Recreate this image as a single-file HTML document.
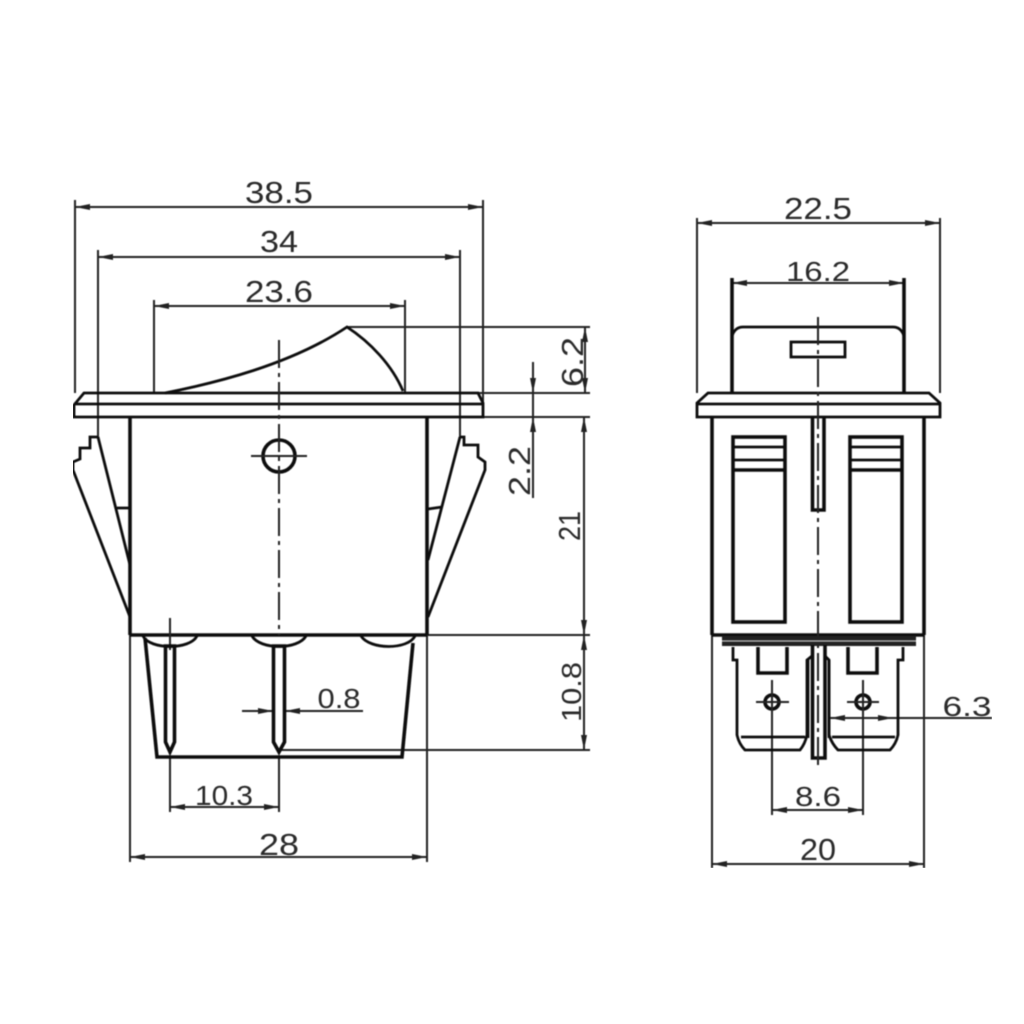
<!DOCTYPE html>
<html><head><meta charset="utf-8"><style>
html,body{margin:0;padding:0;background:#fff;width:1024px;height:1024px;overflow:hidden}
svg{display:block}
text{font-family:"Liberation Sans",sans-serif;font-size:31px;fill:#2a2a2a;text-anchor:middle}
.o{fill:none;stroke:#111;stroke-width:2.8}
.h{fill:none;stroke:#111;stroke-width:3.6}
.d{fill:none;stroke:#222;stroke-width:2}
.c{fill:none;stroke:#222;stroke-width:2;stroke-dasharray:28 5 4 5}
.a{fill:#222;stroke:none}
</style></head><body>
<svg width="1024" height="1024" viewBox="0 0 1024 1024" xmlns="http://www.w3.org/2000/svg">
<defs><filter id="b" x="0" y="0" width="100%" height="100%"><feGaussianBlur stdDeviation="0.45"/></filter></defs>
<rect width="1024" height="1024" fill="#fff"/>
<g filter="url(#b)">

<!-- LEFT: dimension lines -->
<g class="d">
<path d="M75 200V393M483 200V417M98 250V437M460 250V437M154 300V393M405 300V393"/>
<path d="M75 207H483M98 257H460M154 306H405"/>
<path d="M347 327H590M478 393H590M428 417H590M427 635H590M402 750H590M279 750H402"/>
<path d="M585 327V393M533 362V498M584 417V750"/>
<path d="M130 635V862M427 635V862M170 757V812M279 757V812M130 857H427M170 807H279"/>
<path d="M242 711H273M285 711H363"/>
</g>
<g class="a">
<path d="M75 207l15-3v6zM483 207l-15-3v6zM98 257l15-3v6zM460 257l-15-3v6zM154 306l15-3v6zM405 306l-15-3v6z"/>
<path d="M585 327l-3 15h6zM585 393l-3-15h6zM533 393l-3-15h6zM533 417l-3 15h6zM584 417l-3 15h6zM584 635l-3-15h6zM584 635l-3 15h6zM584 750l-3-15h6z"/>
<path d="M130 857l15-3v6zM427 857l-15-3v6zM170 807l15-3v6zM279 807l-15-3v6zM273 711l-15-3v6zM285 711l15-3v6z"/>
</g>

<!-- LEFT: body -->
<path class="o" d="M74 417V405L84 393H478L483 403V417ZM74 404H483"/>
<path class="o" d="M165 393C215 383 290 365 347 327C370 342 392 365 403 391"/>
<path class="h" d="M130 417V635M427 417V635M130 635H427"/>
<path class="o" d="M98 437H90V448H80V459L73 462V470L130 617M98 437L130 565M117 508H130"/>
<path class="o" d="M460 437H464V445H478V457L485 462V470L428 617M460 437L428 560M428 509L442 507"/>
<circle class="h" cx="279" cy="456" r="16"/>
<path class="d" d="M251 456H307"/>
<path class="c" d="M279 340V635"/>
<path class="d" d="M170 618V650"/>

<!-- LEFT: terminals -->
<path class="h" d="M145 638L157 757H402L413 643"/>
<path class="o" d="M143 636C150 650 190 650 197 636M252 636C260 650 298 650 306 636M361 636C370 650 408 650 415 636"/>
<path class="h" d="M165.500 646V742L170 752L174.500 742V646Z" fill="#888"/>
<path class="h" d="M273.500 646V742L279 752L284.500 742V646Z" fill="#888"/>

<!-- LEFT: labels -->
<text x="279" y="203" textLength="68" lengthAdjust="spacingAndGlyphs">38.5</text>
<text x="279" y="252" textLength="38" lengthAdjust="spacingAndGlyphs">34</text>
<text x="279" y="302" textLength="68" lengthAdjust="spacingAndGlyphs">23.6</text>
<text x="339" y="708" textLength="43" lengthAdjust="spacingAndGlyphs" style="font-size:28px">0.8</text>
<text x="224" y="805" textLength="58" lengthAdjust="spacingAndGlyphs" style="font-size:28px">10.3</text>
<text x="279" y="855" textLength="40" lengthAdjust="spacingAndGlyphs">28</text>
<text transform="translate(583 362) rotate(-90)" textLength="50" lengthAdjust="spacingAndGlyphs">6.2</text>
<text transform="translate(530 471) rotate(-90)" textLength="50" lengthAdjust="spacingAndGlyphs">2.2</text>
<text transform="translate(580 526) rotate(-90)" textLength="30" lengthAdjust="spacingAndGlyphs">21</text>
<text transform="translate(581 692) rotate(-90)" textLength="60" lengthAdjust="spacingAndGlyphs" style="font-size:28px">10.8</text>

<!-- RIGHT: dimension lines -->
<g class="d">
<path d="M697 218V393M940 218V393"/>
<path d="M697 223H940M732 283H904"/>
<path d="M712 635V868M924 635V868M772 710V815M863 710V815"/>
<path d="M712 864H924M772 810H863M828 718H992"/>
</g>
<g class="a">
<path d="M697 223l15-3v6zM940 223l-15-3v6zM732 283l15-3v6zM904 283l-15-3v6z"/>
<path d="M712 864l15-3v6zM924 864l-15-3v6zM772 810l15-3v6zM863 810l-15-3v6zM830 718l15-3v6zM893 718l-15-3v6z"/>
</g>

<!-- RIGHT: body -->
<path class="h" d="M732 278V393M904 278V393"/>
<path class="o" d="M732 336Q735 327 743 327H893Q901 327 904 336"/>
<rect class="o" x="791" y="342" width="54" height="15"/>
<path class="o" d="M697 417V403L708 393H929L940 403V417ZM697 404H940"/>
<path class="h" d="M712 417V635M924 417V635M712 635H924"/>
<rect class="h" x="733" y="437" width="52" height="185"/>
<rect class="h" x="850" y="437" width="52" height="185"/>
<path class="o" d="M733 447H785M733 460H785M850 447H902M850 460H902"/>
<path class="h" d="M733 470H785M850 470H902"/>
<path class="h" d="M812.500 417V510H824V417"/>
<rect x="722" y="636" width="194" height="10" fill="#222"/>
<path d="M722 641H916" stroke="#aaa" stroke-width="1"/>

<!-- RIGHT: terminals -->
<path class="o" d="M733 647V660H737V735Q739 744 745 750H800Q805 744 807 735V660L812 656"/>
<path class="o" d="M903 647V660H898V735Q896 744 890 750H838Q832 744 829 735V660L825 656"/>
<path class="o" d="M741 737H805M832 737H895"/>
<path class="h" d="M758 647V673H787V647M848 647V673H877V647"/>
<circle class="h" cx="772" cy="702" r="7"/>
<circle class="h" cx="863" cy="702" r="7"/>
<path class="d" d="M756 702H789M772 680V722M847 702H879M863 680V722"/>
<path class="h" d="M812.500 645V758H825V645"/>
<path class="o" d="M808 660V738M829 660V738"/>
<path class="c" d="M818 317V770"/>

<!-- RIGHT: labels -->
<text x="818" y="219" textLength="68" lengthAdjust="spacingAndGlyphs">22.5</text>
<text x="818" y="281" textLength="64" lengthAdjust="spacingAndGlyphs" style="font-size:28px">16.2</text>
<text x="818" y="806" textLength="46" lengthAdjust="spacingAndGlyphs" style="font-size:28px">8.6</text>
<text x="818" y="860" textLength="36" lengthAdjust="spacingAndGlyphs">20</text>
<text x="967" y="716" textLength="49" lengthAdjust="spacingAndGlyphs" style="font-size:28px">6.3</text>
</g>
</svg>
</body></html>
